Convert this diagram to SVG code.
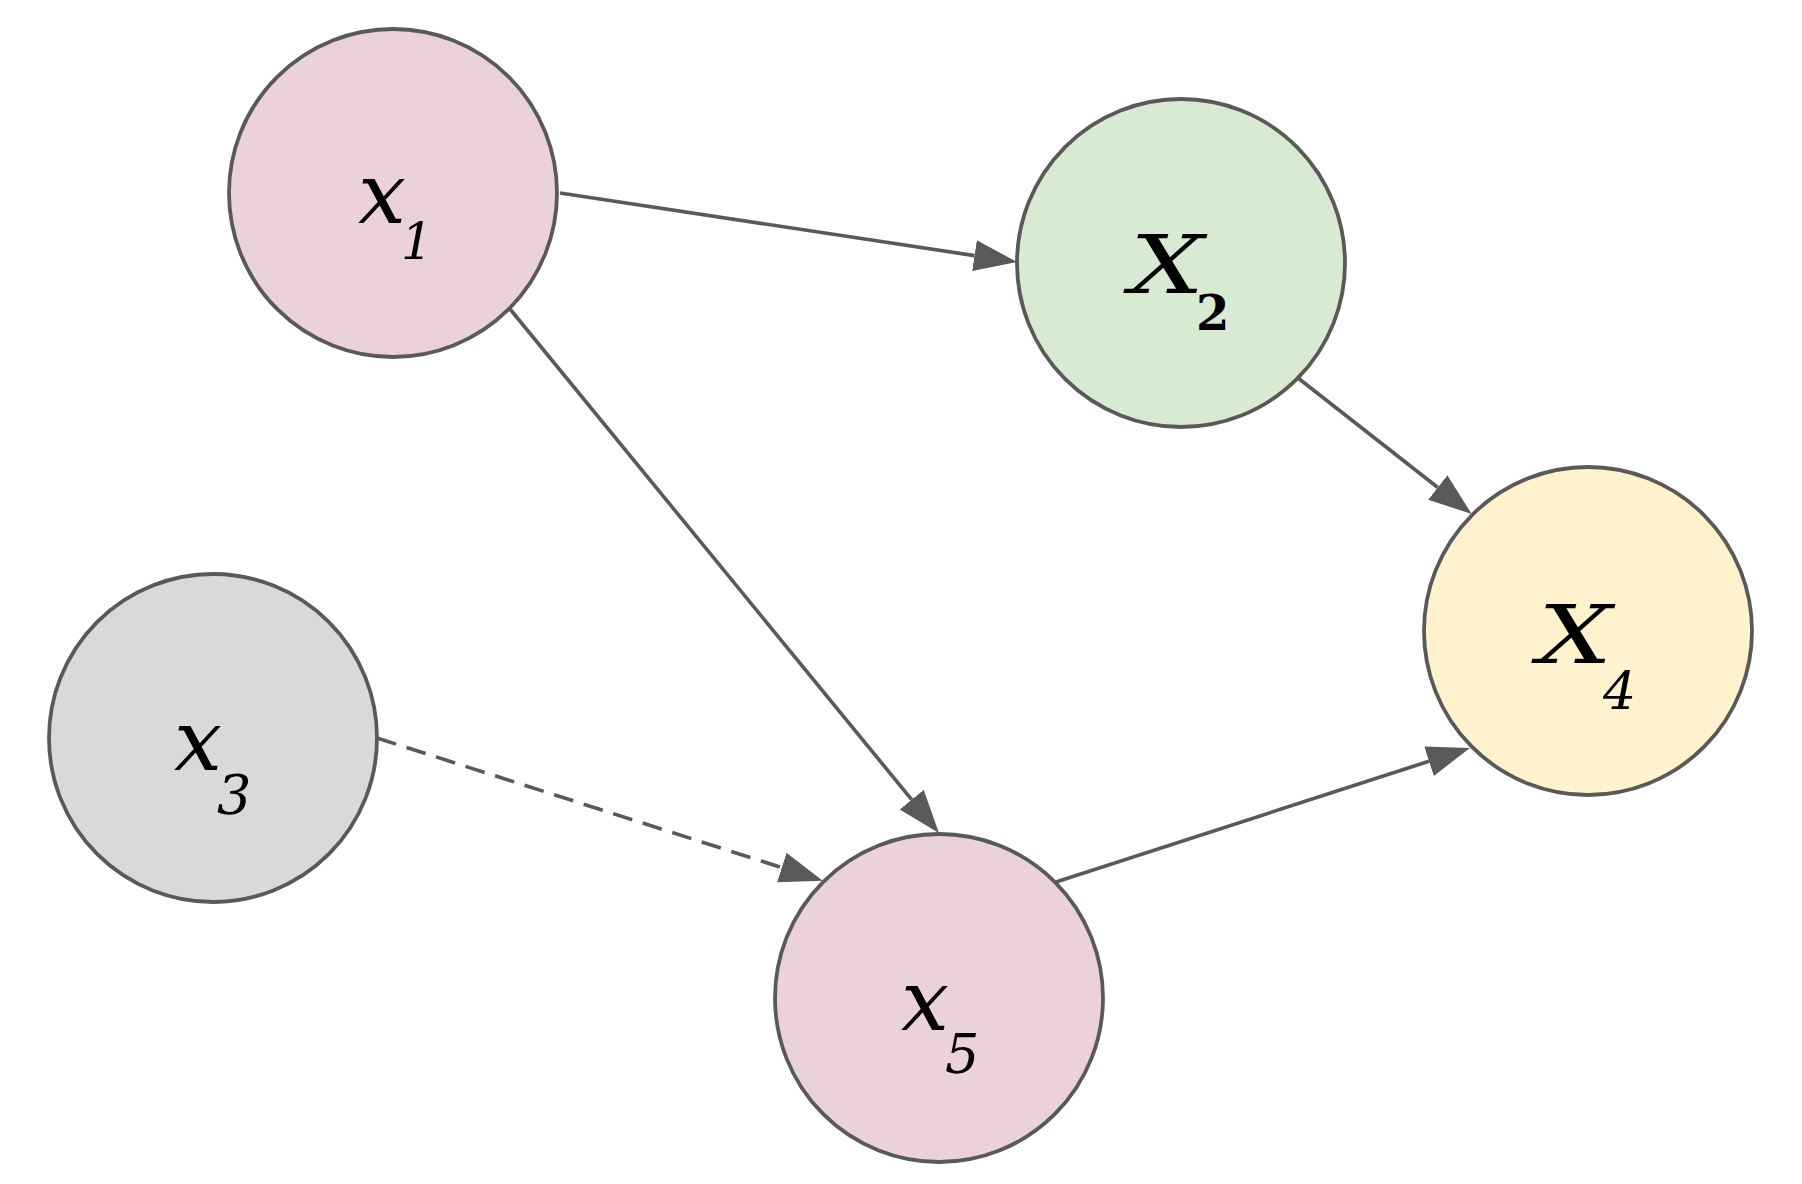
<svg xmlns="http://www.w3.org/2000/svg" width="1802" height="1184" viewBox="0 0 1802 1184">
<style>
.node{stroke:#595959;stroke-width:3.8}
.edge{stroke:#595959;stroke-width:3.6;fill:none}
.dash{stroke-dasharray:20 11}
.v{font-family:"DejaVu Serif","Liberation Serif",serif;font-style:italic;fill:#000}
.s{font-family:"DejaVu Serif","Liberation Serif",serif;font-style:italic;fill:#000}
.u{font-family:"DejaVu Serif","Liberation Serif",serif;font-style:normal;fill:#000}
</style>
<defs>
<marker id="ah" markerUnits="userSpaceOnUse" markerWidth="44" markerHeight="32" refX="0" refY="15.5" orient="auto" viewBox="0 0 44 32">
<path d="M0,0 L43,15.5 L0,31 z" fill="#595959"/>
</marker>
</defs>
<rect width="1802" height="1184" fill="#ffffff"/>
<g id="connectors">
<line class="edge" x1="560" y1="193" x2="974.5" y2="255.6" marker-end="url(#ah)"/>
<line class="edge" x1="510" y1="309" x2="911.7" y2="799.7" marker-end="url(#ah)"/>
<line class="edge" x1="1298" y1="378" x2="1437.8" y2="487.5" marker-end="url(#ah)"/>
<line class="edge" x1="1056" y1="882" x2="1429" y2="761.2" marker-end="url(#ah)"/>
<line class="edge dash" x1="377" y1="738" x2="781.8" y2="867.6" marker-end="url(#ah)"/>
</g>
<g id="x1">
<circle class="node" cx="393" cy="193" r="164" fill="#EAD1DC"/>
<text class="v" x="358" y="223" font-size="84" textLength="48" lengthAdjust="spacingAndGlyphs">x</text>
<text class="s" x="401" y="259" font-size="50">1</text>
</g>
<g id="x2">
<circle class="node" cx="1181" cy="263" r="164" fill="#D9EAD3"/>
<text class="v" x="1130" y="293" font-size="81" textLength="74" lengthAdjust="spacingAndGlyphs">X</text>
<text class="u" x="1196" y="330" font-size="48" font-weight="bold">2</text>
</g>
<g id="x3">
<circle class="node" cx="213" cy="738" r="164" fill="#D9D9D9"/>
<text class="v" x="174" y="770" font-size="84" textLength="48" lengthAdjust="spacingAndGlyphs">x</text>
<text class="s" x="217" y="814" font-size="54">3</text>
</g>
<g id="x4">
<circle class="node" cx="1588" cy="631" r="164" fill="#FFF2CC"/>
<text class="v" x="1538" y="663" font-size="81" textLength="74" lengthAdjust="spacingAndGlyphs">X</text>
<text class="s" x="1603" y="709" font-size="52">4</text>
</g>
<g id="x5">
<circle class="node" cx="939" cy="998" r="164" fill="#EAD1DC"/>
<text class="v" x="901" y="1030" font-size="84" textLength="48" lengthAdjust="spacingAndGlyphs">x</text>
<text class="s" x="945" y="1073" font-size="54">5</text>
</g>
</svg>
